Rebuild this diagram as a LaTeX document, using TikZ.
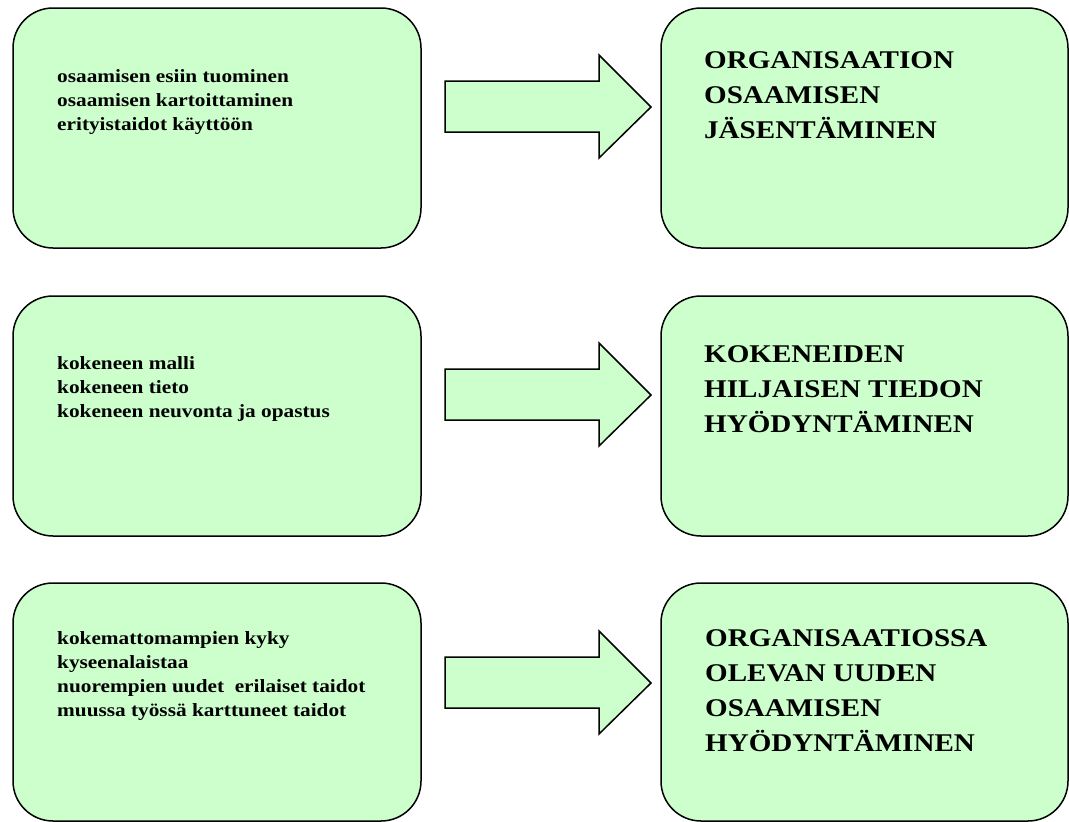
\documentclass[tikz,border=0pt]{standalone}
\usepackage{fontspec}
\newfontfamily\boxfont[FakeStretch=1.14]{Liberation Serif Bold}
\definecolor{boxgreen}{HTML}{CCFFCC}
\begin{document}
\begin{tikzpicture}[x=1pt,y=-1pt,
  box/.style={draw=black, line width=1.5pt, fill=boxgreen, rounded corners=40pt,
    inner sep=0pt, outer sep=0pt, anchor=north west},
  leftbox/.style={box, minimum width=408pt},
  rightbox/.style={box, minimum width=407pt},
  blockarrow/.style={draw=black, line width=1.5pt, fill=boxgreen, line join=miter},
  lefttext/.style={font=\boxfont\fontsize{18.67}{24}\selectfont,
    align=left, inner sep=0pt, anchor=base west},
  righttext/.style={font=\boxfont\fontsize{25.5}{35}\selectfont,
    align=left, inner sep=0pt, anchor=base west}]
\useasboundingbox (0,0) rectangle (1069,822);

% boxes
\node[leftbox, minimum height=240pt] (l1) at (13,8) {};
\node[rightbox, minimum height=240pt] (r1) at (661,8) {};
\node[leftbox, minimum height=240pt] (l2) at (13,296) {};
\node[rightbox, minimum height=240pt] (r2) at (661,296) {};
\node[leftbox, minimum height=238pt] (l3) at (13,583) {};
\node[rightbox, minimum height=238pt] (r3) at (661,583) {};

% block arrows
\foreach \dy/\n in {0/1,288/2,576/3}{
  \draw[blockarrow] (445,81+\dy) -- (599,81+\dy) -- (599,55+\dy) -- (651,107+\dy)
    -- (599,158+\dy) -- (599,132+\dy) -- (445,132+\dy) -- cycle;
}

% texts (anchor = baseline of the last line)
\node[lefttext] (lt1) at (57,130) {osaamisen esiin tuominen\\osaamisen kartoittaminen\\erityistaidot käyttöön};
\node[righttext] (rt1) at (704,138) {ORGANISAATION\\OSAAMISEN\\JÄSENTÄMINEN};
\node[lefttext] (lt2) at (57,417) {kokeneen malli\\kokeneen tieto\\kokeneen neuvonta ja opastus};
\node[righttext] (rt2) at (704,432) {KOKENEIDEN\\HILJAISEN TIEDON\\HYÖDYNTÄMINEN};
\node[lefttext] (lt3) at (57,716) {kokemattomampien kyky\\kyseenalaistaa\\nuorempien uudet~ erilaiset taidot\\muussa työssä karttuneet taidot};
\node[righttext] (rt3) at (705,751) {ORGANISAATIOSSA\\OLEVAN UUDEN\\OSAAMISEN\\HYÖDYNTÄMINEN};
\end{tikzpicture}
\end{document}
